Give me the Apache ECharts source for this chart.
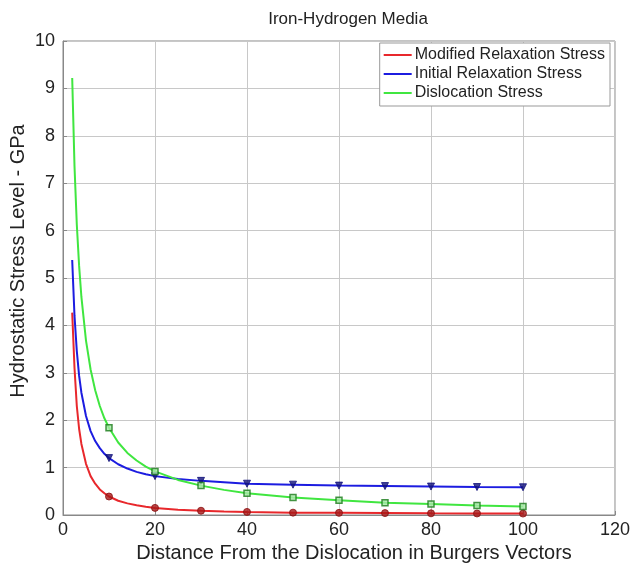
<!DOCTYPE html>
<html>
<head>
<meta charset="utf-8">
<script src="https://cdn.jsdelivr.net/npm/echarts@6/dist/echarts.min.js"></script>
<style>
  html, body { margin: 0; padding: 0; background: #fff; }
  #chart { width: 633px; height: 572px; }
</style>
</head>
<body>
<div id="chart"></div>
<script>
// distance in Burgers vectors
const distance = [2, 2.5, 3, 3.5, 4, 5, 6, 7, 8, 9, 10, 12, 14, 16, 18, 20, 25, 30, 35, 40, 50, 60, 70, 80, 90, 100];
const modifiedRelax = [4.27, 3.1, 2.3, 1.82, 1.5, 1.08, 0.82, 0.66, 0.54, 0.46, 0.39, 0.3, 0.245, 0.205, 0.175, 0.15, 0.11, 0.09, 0.075, 0.065, 0.05, 0.045, 0.04, 0.035, 0.032, 0.03];
const initialRelax = [5.38, 4.2, 3.46, 2.94, 2.58, 2.09, 1.77, 1.56, 1.41, 1.29, 1.2, 1.07, 0.98, 0.91, 0.86, 0.82, 0.76, 0.72, 0.69, 0.66, 0.64, 0.62, 0.61, 0.6, 0.59, 0.585];
const dislocation = [9.22, 7.36, 6.13, 5.26, 4.6, 3.68, 3.07, 2.63, 2.3, 2.04, 1.84, 1.53, 1.31, 1.15, 1.02, 0.92, 0.74, 0.62, 0.53, 0.46, 0.37, 0.31, 0.26, 0.23, 0.2, 0.18];
const seriesNames = ['Modified Relaxation Stress', 'Initial Relaxation Stress', 'Dislocation Stress'];

const lineColors = ['#e8282c', '#1c1ce0', '#40e640'];
const font = 'Liberation Sans, Arial, Helvetica, sans-serif';

const pairs = ys => distance.map((x, i) => [x, ys[i]]);
// markers only on every 10 units
const markerPts = ys => pairs(ys).filter(p => p[0] % 10 === 0);

const chart = echarts.init(document.getElementById('chart'));

const lineSeries = (name, ys, color) => ({
  name,
  type: 'line',
  data: pairs(ys),
  smooth: false,
  showSymbol: false,
  lineStyle: { color, width: 2 },
  itemStyle: { color },
  z: 3
});

const option = {
  backgroundColor: '#fff',
  animation: false,
  title: {
    text: 'Iron-Hydrogen Media',
    left: 343,
    top: 6,
    textAlign: 'center',
    textStyle: { fontFamily: font, fontWeight: 'normal', fontSize: 17, color: '#222' }
  },
  legend: {
    data: seriesNames,
    orient: 'vertical',
    right: 23,
    top: 43,
    itemGap: 3,
    itemWidth: 28,
    itemHeight: 14,
    icon: 'path://M0,6 L28,6 L28,8 L0,8 Z',
    backgroundColor: '#fff',
    borderColor: '#999',
    borderWidth: 1,
    borderRadius: 0,
    padding: [4, 5, 5, 4],
    textStyle: { fontFamily: font, fontSize: 16, color: '#222', padding: [0, 0, 0, -2] }
  },
  grid: {
    left: 63, right: 18, top: 41, bottom: 57,
    outerBoundsMode: 'none',
    show: true, borderColor: '#888', borderWidth: 1
  },
  xAxis: {
    type: 'value',
    min: 0, max: 120, interval: 20,
    name: 'Distance From the Dislocation in Burgers Vectors',
    nameLocation: 'middle',
    nameGap: 28,
    nameTextStyle: { fontFamily: font, fontSize: 20, color: '#222', padding: [0, 0, 0, 30] },
    axisLine: { show: true, lineStyle: { color: '#888' } },
    axisTick: { inside: true, length: 4, lineStyle: { color: '#888' } },
    axisLabel: { fontFamily: font, fontSize: 18, color: '#222', margin: 6 },
    splitLine: { show: true, lineStyle: { color: '#c8c8c8' } }
  },
  yAxis: {
    type: 'value',
    min: 0, max: 10, interval: 1,
    name: 'Hydrostatic Stress Level - GPa',
    nameLocation: 'middle',
    nameGap: 35,
    nameMoveOverlap: false,
    nameTextStyle: { fontFamily: font, fontSize: 20, color: '#222', padding: [0, 0, 0, 34] },
    axisLine: { show: true, lineStyle: { color: '#888' } },
    axisTick: { inside: true, length: 4, lineStyle: { color: '#888' } },
    axisLabel: { fontFamily: font, fontSize: 18, color: '#222', margin: 8 },
    splitLine: { show: true, lineStyle: { color: '#c8c8c8' } }
  },
  series: [
    lineSeries(seriesNames[0], modifiedRelax, lineColors[0]),
    lineSeries(seriesNames[1], initialRelax, lineColors[1]),
    lineSeries(seriesNames[2], dislocation, lineColors[2]),
    {
      type: 'scatter',
      data: markerPts(modifiedRelax),
      symbol: 'circle',
      symbolSize: 7,
      itemStyle: { color: '#a81818', borderColor: '#8a1010', borderWidth: 1 },
      z: 4
    },
    {
      type: 'scatter',
      data: markerPts(initialRelax),
      symbol: 'triangle',
      symbolRotate: 180,
      symbolSize: 7,
      itemStyle: { color: '#10107a', borderColor: '#10107a', borderWidth: 1 },
      z: 4
    },
    {
      type: 'scatter',
      data: markerPts(dislocation),
      symbol: 'rect',
      symbolSize: 6,
      itemStyle: { color: '#a8e8a8', borderColor: '#1a7a1a', borderWidth: 1.5 },
      z: 4
    }
  ]
};

chart.setOption(option);
</script>
</body>
</html>
